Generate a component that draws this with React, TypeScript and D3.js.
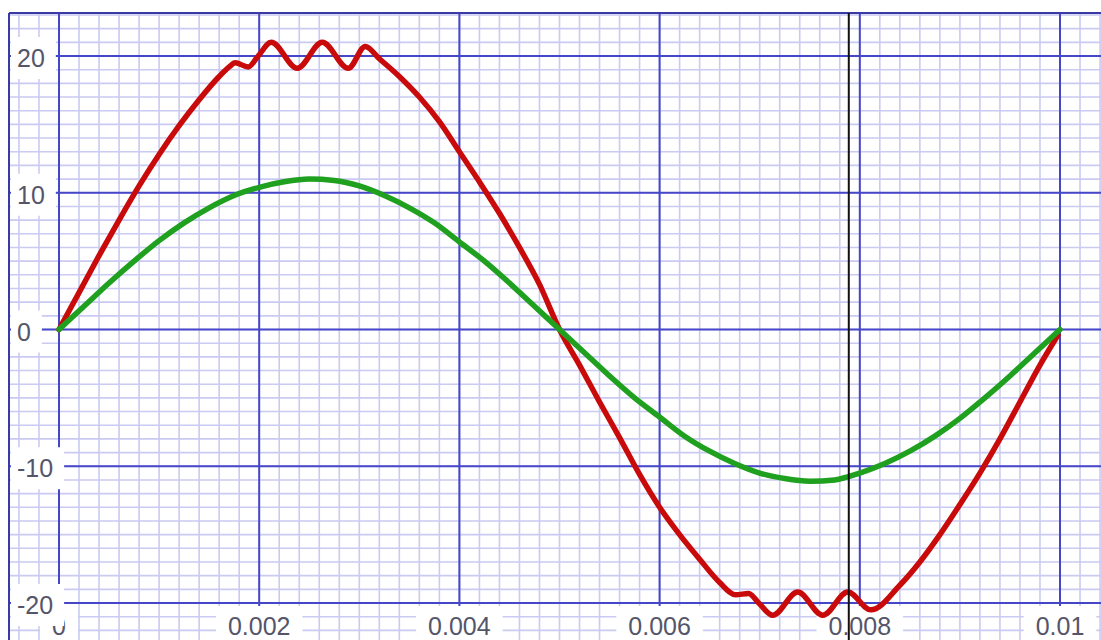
import React from "react";
import * as d3 from "d3";

// Waveform samples: time (s) and amplitude
const redTime = [
  0, 0.0002, 0.0004, 0.0006, 0.0008, 0.001, 0.0012, 0.0014, 0.0016, 0.0017, 0.00176,
  0.00189, 0.00199, 0.00212, 0.00238, 0.00263, 0.00289, 0.00306, 0.0032, 0.0034,
  0.0036, 0.0038, 0.004, 0.0042, 0.0044, 0.0046, 0.0048, 0.005, 0.0052, 0.0054,
  0.0056, 0.0058, 0.006, 0.0062, 0.0064, 0.0066, 0.00676, 0.00689, 0.00699,
  0.00713, 0.00738, 0.00763, 0.00788, 0.00811, 0.0084, 0.0086, 0.0088, 0.009,
  0.0092, 0.0094, 0.0096, 0.0098, 0.00998,
];
const redValue = [
  0, 2.7, 5.4, 8.0, 10.5, 12.8, 14.9, 16.8, 18.5, 19.2, 19.5,
  19.2, 20.0, 21.0, 19.1, 21.0, 19.1, 20.7, 19.8, 18.5,
  17.0, 15.2, 13.0, 10.8, 8.5, 6.0, 3.3, 0, -2.6, -5.3,
  -7.9, -10.6, -13.0, -15.0, -16.8, -18.5, -19.4, -19.3, -20.0,
  -20.9, -19.2, -20.9, -19.2, -20.5, -18.7, -17.0, -15.0, -12.8,
  -10.5, -8.0, -5.3, -2.6, -0.4,
];

const greenTime = [
  0, 0.00025, 0.0005, 0.00075, 0.001, 0.00125, 0.0015, 0.00175, 0.002, 0.00225,
  0.0025, 0.00275, 0.003, 0.00325, 0.0035, 0.00375, 0.004, 0.00425, 0.0045, 0.00475,
  0.005, 0.00525, 0.0055, 0.00575, 0.006, 0.00625, 0.0065, 0.00675, 0.007, 0.00725,
  0.0075, 0.00775, 0.008, 0.00825, 0.0085, 0.00875, 0.009, 0.00925, 0.0095, 0.00975,
  0.01,
];
const greenValue = [
  0, 1.7, 3.4, 5.0, 6.5, 7.8, 8.9, 9.8, 10.4, 10.8,
  11.0, 10.9, 10.5, 9.8, 8.9, 7.8, 6.4, 5.0, 3.4, 1.7,
  0, -1.7, -3.4, -5.0, -6.4, -7.8, -8.9, -9.8, -10.5, -10.9,
  -11.1, -11.0, -10.5, -9.8, -8.9, -7.8, -6.5, -5.0, -3.4, -1.7,
  0,
];

const xTicks = [0, 0.002, 0.004, 0.006, 0.008, 0.01];
const xTickLabels = ["0", "0.002", "0.004", "0.006", "0.008", "0.01"];
const yTicks = [20, 10, 0, -10, -20];
const yTickLabels = ["20", "10", "0", "-10", "-20"];

const cursorTime = 0.00789;

const W = 1101;
const H = 640;
const FRAME_L = 9;
const FRAME_T = 13;
const FONT = 25;

const MAJOR = "#4646c8";
const MINOR = "#cacaf2";
const TEXT = "#55556a";

// approximate advance widths for Arial-metric digits
function textWidth(s: string) {
  let w = 0;
  for (const c of s) w += c === "." ? 0.278 : c === "-" ? 0.333 : 0.556;
  return w * FONT;
}

export default function App() {
  const x = d3.scaleLinear().domain([0, 0.01]).range([59, 1060]);
  const y = d3.scaleLinear().domain([-20, 20]).range([603, 56]);

  const minorX = d3.range(-0.0004, 0.01041, 0.0002);
  const minorY = d3.range(-22, 24, 1);

  const redPts: [number, number][] = redTime.map((t, i) => [t, redValue[i]]);
  const greenPts: [number, number][] = greenTime.map((t, i) => [t, greenValue[i]]);
  const line = d3
    .line<[number, number]>()
    .x((d) => x(d[0]))
    .y((d) => y(d[1]))
    .curve(d3.curveMonotoneX);

  return (
    <svg
      width={W}
      height={H}
      style={{ position: "absolute", left: 0, top: 0, display: "block", background: "#fff" }}
      fontFamily="'Liberation Sans', Arial, sans-serif"
    >
      <rect x={0} y={0} width={W} height={H} fill="#fff" />
      {/* minor grid */}
      {minorX.map((t, i) => (
        <line key={"mx" + i} x1={x(t)} x2={x(t)} y1={FRAME_T} y2={H} stroke={MINOR} strokeWidth={1.6} />
      ))}
      {minorY.map((v, i) => (
        <line key={"my" + i} x1={FRAME_L} x2={W} y1={y(v)} y2={y(v)} stroke={MINOR} strokeWidth={1.6} />
      ))}
      {/* major grid */}
      {xTicks.map((t, i) => (
        <line key={"Mx" + i} x1={x(t)} x2={x(t)} y1={FRAME_T} y2={H} stroke={MAJOR} strokeWidth={2} />
      ))}
      {yTicks.map((v, i) => (
        <line key={"My" + i} x1={FRAME_L} x2={W} y1={y(v)} y2={y(v)} stroke={MAJOR} strokeWidth={2} />
      ))}
      {/* frame */}
      <line x1={FRAME_L} x2={FRAME_L} y1={FRAME_T} y2={H} stroke="#3a3aa4" strokeWidth={2} />
      <line x1={FRAME_L} x2={W} y1={FRAME_T} y2={FRAME_T} stroke="#3a3aa4" strokeWidth={2} />

      {/* x labels */}
      {xTicks.map((t, i) => {
        const w = textWidth(xTickLabels[i]);
        return (
          <g key={"xl" + i}>
            <rect x={x(t) - w / 2 - 12} y={606} width={w + 24} height={H - 606} fill="#fff" />
            <text x={x(t)} y={635} textAnchor="middle" fontSize={FONT} fill={TEXT}>
              {xTickLabels[i]}
            </text>
          </g>
        );
      })}
      {/* y labels */}
      {yTicks.map((v, i) => {
        const w = textWidth(yTickLabels[i]);
        return (
          <g key={"yl" + i}>
            <rect x={FRAME_L + 2} y={y(v) - 19} width={17 + w + 11 - (FRAME_L + 2)} height={42} fill="#fff" />
            <text x={17} y={y(v) + 11} fontSize={FONT} fill={TEXT}>
              {yTickLabels[i]}
            </text>
          </g>
        );
      })}

      {/* curves */}
      <path d={line(redPts) || ""} fill="none" stroke="#c80a0a" strokeWidth={5.5} strokeLinejoin="round" strokeLinecap="round" />
      <path d={line(greenPts) || ""} fill="none" stroke="#1fa01f" strokeWidth={5.5} strokeLinejoin="round" strokeLinecap="round" />

      {/* cursor */}
      <line x1={x(cursorTime)} x2={x(cursorTime)} y1={FRAME_T} y2={H} stroke="#111" strokeWidth={2} />
    </svg>
  );
}
